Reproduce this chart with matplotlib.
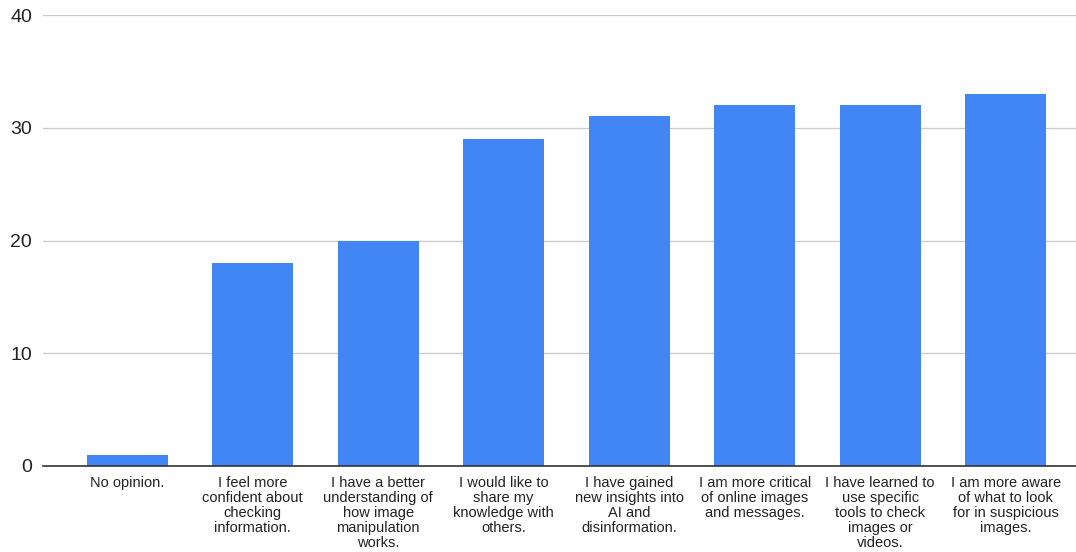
import matplotlib.pyplot as plt

plt.rcParams['font.family'] = ['Liberation Sans', 'DejaVu Sans']

labels = [
    "No opinion.",
    "I feel more\nconfident about\nchecking\ninformation.",
    "I have a better\nunderstanding of\nhow image\nmanipulation\nworks.",
    "I would like to\nshare my\nknowledge with\nothers.",
    "I have gained\nnew insights into\nAI and\ndisinformation.",
    "I am more critical\nof online images\nand messages.",
    "I have learned to\nuse specific\ntools to check\nimages or\nvideos.",
    "I am more aware\nof what to look\nfor in suspicious\nimages.",
]
counts = [1, 18, 20, 29, 31, 32, 32, 33]
yticks = [0, 10, 20, 30, 40]

fig = plt.figure(figsize=(10.76, 5.52), dpi=100)
ax = fig.add_axes([0.040, 0.1558, 0.960, 0.817])

ax.bar(range(len(counts)), counts, width=0.645, color='#4285F4', zorder=3)

ax.set_xlim(-0.67, 7.56)
ax.set_ylim(0, 40)
ax.set_yticks(yticks)
ax.set_xticks(range(len(labels)))
ax.set_xticklabels(labels, fontsize=10.5, linespacing=1.1, color='#222222')
ax.tick_params(axis='y', length=0, pad=8, labelsize=14, labelcolor='#222222')
ax.tick_params(axis='x', length=0, pad=7)

ax.grid(axis='y', color='#cccccc', linewidth=1, zorder=0)
for s in ['top', 'right', 'left']:
    ax.spines[s].set_visible(False)
ax.spines['bottom'].set_color('#333333')
ax.spines['bottom'].set_linewidth(1.2)
ax.spines['bottom'].set_zorder(4)

fig.savefig('out.png', dpi=100)
